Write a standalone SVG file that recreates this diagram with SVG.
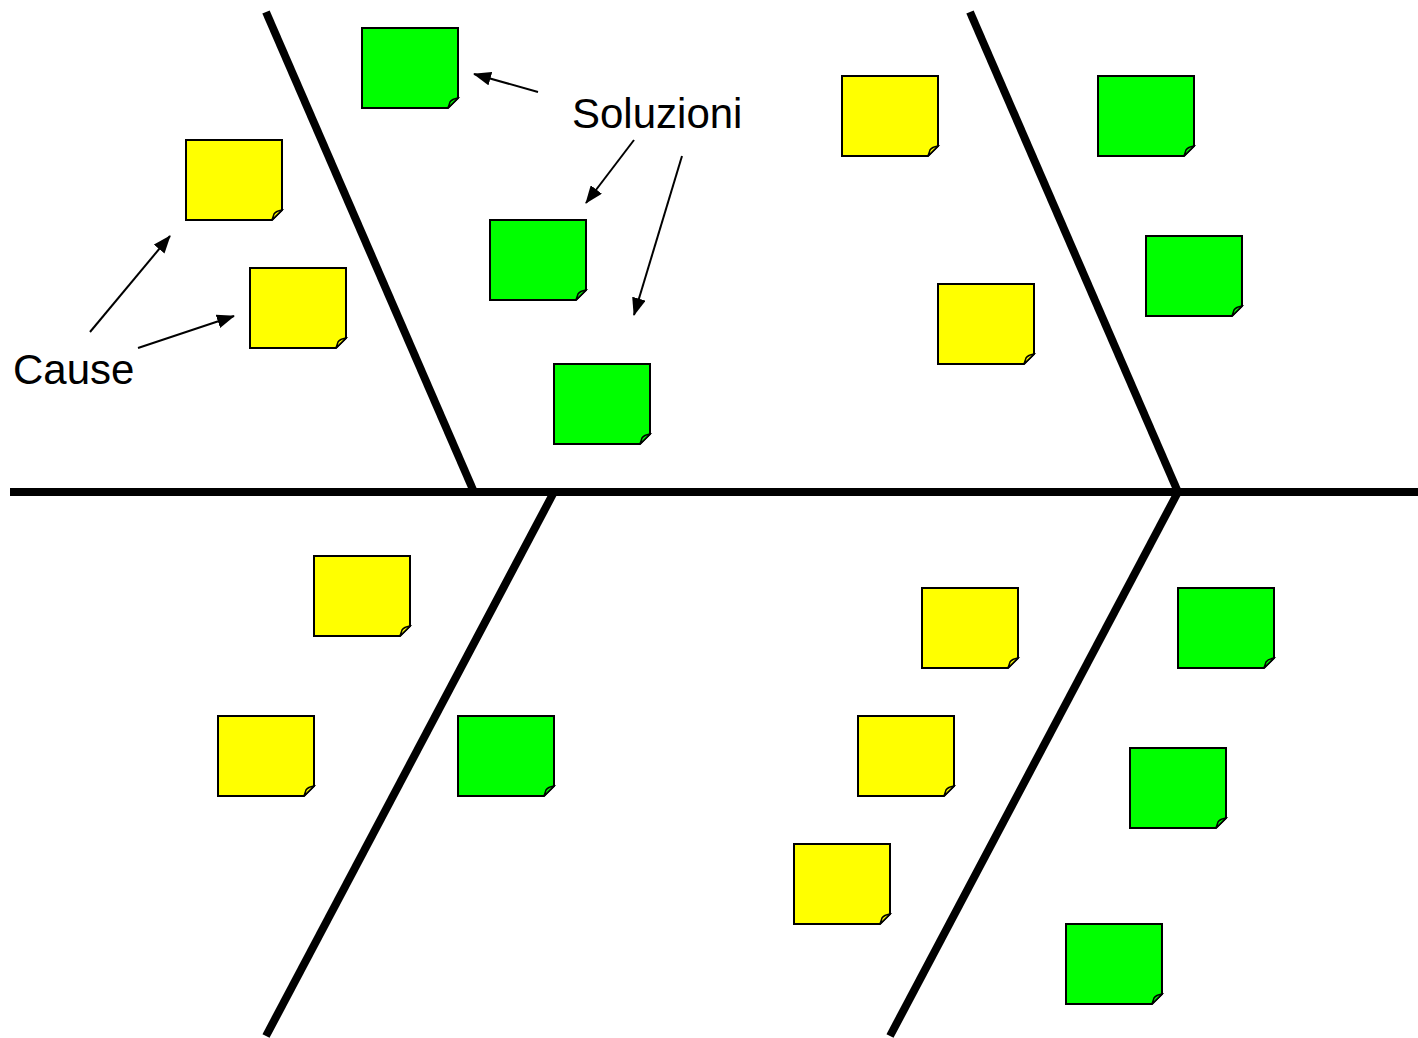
<svg xmlns="http://www.w3.org/2000/svg" width="1418" height="1038" viewBox="0 0 1418 1038">
<style>
.bone{stroke:#000;stroke-width:8;fill:none}
.arr{stroke:#000;stroke-width:2;fill:none;marker-end:url(#ah)}
.g{fill:#00ff00}
.y{fill:#ffff00}
.body{stroke:#000;stroke-width:2;stroke-linejoin:miter}
.fold{stroke:#000;stroke-width:1.5}
.lbl{font-family:"Liberation Sans",Arial,sans-serif;font-size:42px;fill:#000}
</style>
<defs>
<marker id="ah" markerWidth="18" markerHeight="14" refX="17" refY="7" orient="auto" markerUnits="userSpaceOnUse" viewBox="0 0 18 14">
<path d="M0,0 L18,7 L0,14 Z" fill="#000"/>
</marker>
<g id="note">
<path class="body" d="M0,0 H96 V70 L86,80 H0 Z"/>
<path class="fold" d="M86,80 L96,70 Q90,71 88,74 Q87,77 86,80 Z"/>
</g>
</defs>
<rect width="1418" height="1038" fill="#fff"/>
<g id="connectors">
<line class="bone" x1="10" y1="492" x2="1418" y2="492"/>
<line class="bone" x1="266" y1="12" x2="474" y2="492"/>
<line class="bone" x1="970" y1="12" x2="1178" y2="492"/>
<line class="bone" x1="554" y1="492" x2="266" y2="1036"/>
<line class="bone" x1="1178" y1="492" x2="890" y2="1036"/>
<line class="arr" x1="538" y1="92" x2="474" y2="74"/>
<line class="arr" x1="634" y1="140" x2="586" y2="203"/>
<line class="arr" x1="682" y1="156" x2="634" y2="315"/>
<line class="arr" x1="90" y1="332" x2="170" y2="236"/>
<line class="arr" x1="138" y1="348" x2="234" y2="316"/>
</g>
<g id="n1" class="g"><use href="#note" x="362" y="28"/></g>
<g id="n2" class="g"><use href="#note" x="490" y="220"/></g>
<g id="n3" class="g"><use href="#note" x="554" y="364"/></g>
<g id="n4" class="g"><use href="#note" x="1098" y="76"/></g>
<g id="n5" class="g"><use href="#note" x="1146" y="236"/></g>
<g id="n6" class="g"><use href="#note" x="458" y="716"/></g>
<g id="n7" class="g"><use href="#note" x="1178" y="588"/></g>
<g id="n8" class="g"><use href="#note" x="1130" y="748"/></g>
<g id="n9" class="g"><use href="#note" x="1066" y="924"/></g>
<g id="n10" class="y"><use href="#note" x="186" y="140"/></g>
<g id="n11" class="y"><use href="#note" x="250" y="268"/></g>
<g id="n12" class="y"><use href="#note" x="842" y="76"/></g>
<g id="n13" class="y"><use href="#note" x="938" y="284"/></g>
<g id="n14" class="y"><use href="#note" x="314" y="556"/></g>
<g id="n15" class="y"><use href="#note" x="218" y="716"/></g>
<g id="n16" class="y"><use href="#note" x="922" y="588"/></g>
<g id="n17" class="y"><use href="#note" x="858" y="716"/></g>
<g id="n18" class="y"><use href="#note" x="794" y="844"/></g>
<g id="labels">
<text class="lbl" x="572" y="128">Soluzioni</text>
<text class="lbl" x="13" y="384">Cause</text>
</g>
</svg>
